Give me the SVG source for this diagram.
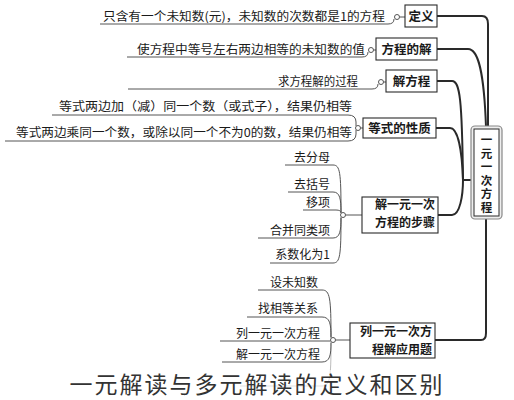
<svg xmlns="http://www.w3.org/2000/svg" width="514" height="400" viewBox="0 0 514 400">
<style>
text{font-family:"Noto Sans CJK SC","Noto Sans CJK JP",sans-serif;fill:#1a1a1a}
.leaf{font-size:12px}
.node{font-size:12.5px;font-weight:bold}
.node2{font-size:12px;font-weight:bold}
.cn{font-size:11.5px;font-weight:bold;writing-mode:vertical-rl;letter-spacing:2px}
.box{fill:#fff;stroke:#2a2a2a;stroke-width:1.1}
.trunk{fill:none;stroke:#2a2a2a;stroke-width:2}
.sub{fill:none;stroke:#555;stroke-width:1}
.jn{fill:#fff;stroke:#555;stroke-width:1}
.title{font-size:23px;fill:#333;letter-spacing:2px}
</style>
<rect width="514" height="400" fill="#fff"/>
<g id="connectors">
<path class="trunk" d="M437,16 H482 Q488,16 488,24 V127"/>
<path class="trunk" d="M437,49 H468 C478,49 484,70 486,127"/>
<path class="trunk" d="M437,81 H452 C460,81 462,100 463,180"/>
<path class="trunk" d="M436,128 H450 C458,128 462,150 463,180"/>
<path class="trunk" d="M438,215 H452 C460,215 463,195 463,180"/>
<path class="trunk" d="M463,180 H472"/>
<path class="trunk" d="M435,340 H481 Q486,340 486,333 V219"/>
<path class="sub" d="M100,24 H388 Q394,24 394,19"/>
<path class="sub" d="M399.5,17 H405"/>
<path class="sub" d="M127,57 H362 Q368,57 368,52"/>
<path class="sub" d="M373.5,50 H376"/>
<path class="sub" d="M128,89 H372 Q378,89 378,84"/>
<path class="sub" d="M383.5,82 H386"/>
<path class="sub" d="M52,115 H348 Q356,115 356,122 V126"/>
<path class="sub" d="M5,141 H348 Q356,141 356,134 V130"/>
<path class="sub" d="M360.5,128 H363"/>
<path class="sub" d="M285,165 H333 C340,165 341,172 341,212.5"/>
<path class="sub" d="M288,192 H333 C340,192 341,199 341,212.5"/>
<path class="sub" d="M303,210 H336 Q341,210 341,213"/>
<path class="sub" d="M258,238 H333 C340,238 341,231 341,217.5"/>
<path class="sub" d="M270,263 H333 C340,263 341,256 341,217.5"/>
<path class="sub" d="M345.5,215 H362"/>
<path class="sub" d="M258,290 H322 C330,290 331,298 331,337.5"/>
<path class="sub" d="M247,317 H322 C330,317 331,324 331,337.5"/>
<path class="sub" d="M220,341 H330.5"/>
<path class="sub" d="M222,362 H322 C330,362 331,355 331,342.5"/>
<path class="sub" d="M240,386 H322 C330,386 331,378 331,342.5" opacity="0.4"/>
<path class="sub" d="M335.5,340 H350"/>
</g>
<g id="center">
<rect x="471" y="126" width="31" height="93" rx="4" fill="#eee" stroke="#888" stroke-width="1.2"/>
<rect x="474" y="129" width="25" height="87" fill="#fff" stroke="#2a2a2a" stroke-width="1"/>
<text class="cn" x="486.5" y="134">一元一次方程</text>
</g>
<g id="n-def">
<rect class="box" x="405" y="5" width="32" height="22"/>
<text class="node" x="421" y="20.5" text-anchor="middle">定义</text>
<circle class="jn" cx="397" cy="17" r="2.5"/>
<text class="leaf" x="385" y="21" text-anchor="end" textLength="282" lengthAdjust="spacingAndGlyphs">只含有一个未知数(元)，未知数的次数都是1的方程</text>
</g>
<g id="n-sol">
<rect class="box" x="376" y="38" width="61" height="22"/>
<text class="node" x="406.5" y="53.5" text-anchor="middle">方程的解</text>
<circle class="jn" cx="371" cy="50" r="2.5"/>
<text class="leaf" x="365" y="54" text-anchor="end" textLength="228" lengthAdjust="spacingAndGlyphs">使方程中等号左右两边相等的未知数的值</text>
</g>
<g id="n-solve">
<rect class="box" x="386" y="70" width="51" height="22"/>
<text class="node" x="411.5" y="85.5" text-anchor="middle">解方程</text>
<circle class="jn" cx="381" cy="82" r="2.5"/>
<text class="leaf" x="358" y="86" text-anchor="end" textLength="80" lengthAdjust="spacingAndGlyphs">求方程解的过程</text>
</g>
<g id="n-prop">
<rect class="box" x="363" y="118" width="73" height="20"/>
<text class="node" x="399.5" y="132.5" text-anchor="middle">等式的性质</text>
<circle class="jn" cx="358" cy="128" r="2.5"/>
<text class="leaf" x="352" y="111" text-anchor="end" textLength="293" lengthAdjust="spacingAndGlyphs">等式两边加（减）同一个数（或式子），结果仍相等</text>
<text class="leaf" x="352" y="137" text-anchor="end" textLength="336" lengthAdjust="spacingAndGlyphs">等式两边乘同一个数，或除以同一个不为0的数，结果仍相等</text>
</g>
<g id="n-steps">
<rect class="box" x="362" y="197" width="76" height="36"/>
<text class="node2" x="435" y="208.5" text-anchor="end">解一元一次</text>
<text class="node2" x="435" y="226.5" text-anchor="end">方程的步骤</text>
<circle class="jn" cx="343" cy="215" r="2.5"/>
<text class="leaf" x="330" y="161.5" text-anchor="end">去分母</text>
<text class="leaf" x="330" y="189" text-anchor="end">去括号</text>
<text class="leaf" x="330" y="207" text-anchor="end">移项</text>
<text class="leaf" x="330" y="234.5" text-anchor="end">合并同类项</text>
<text class="leaf" x="330" y="259" text-anchor="end">系数化为1</text>
</g>
<g id="n-app">
<rect class="box" x="350" y="323" width="85" height="35"/>
<text class="node2" x="432" y="335.5" text-anchor="end">列一元一次方</text>
<text class="node2" x="432" y="353.5" text-anchor="end">程解应用题</text>
<circle class="jn" cx="333" cy="340" r="2.5"/>
<text class="leaf" x="318" y="287" text-anchor="end">设未知数</text>
<text class="leaf" x="318" y="312.5" text-anchor="end">找相等关系</text>
<text class="leaf" x="320" y="337.5" text-anchor="end">列一元一次方程</text>
<text class="leaf" x="320" y="359" text-anchor="end">解一元一次方程</text>
</g>
<rect x="0" y="370" width="514" height="30" fill="#fff" opacity="0.55"/>
<text class="title" x="257" y="393" text-anchor="middle">一元解读与多元解读的定义和区别</text>
</svg>
